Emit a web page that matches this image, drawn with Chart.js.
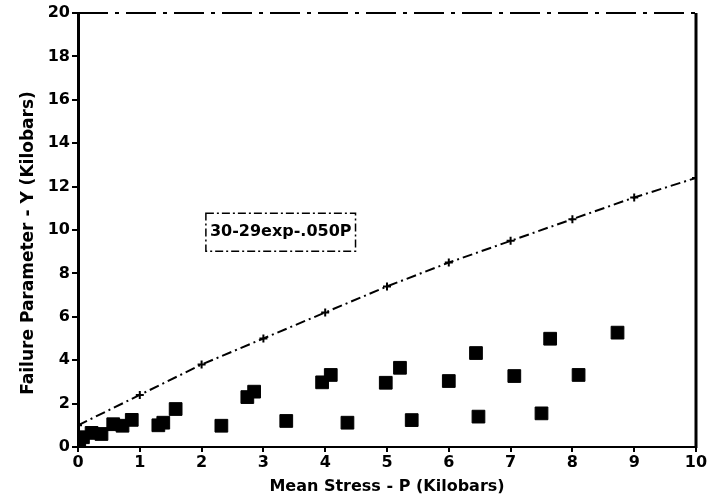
<!DOCTYPE html>
<html>
<head>
<meta charset="utf-8">
<script src="https://cdn.jsdelivr.net/npm/chart.js@4.4.0/dist/chart.umd.min.js"></script>
<style>
  html, body { margin: 0; padding: 0; background: #fff; }
  #wrap { width: 723px; height: 500px; }
</style>
</head>
<body>
<div id="wrap"><canvas id="failure-chart"></canvas></div>
<script>
// fitted curve Y = 30 - 29 exp(-0.050 P), values read at each kilobar
const curveP = [0, 1, 2, 3, 4, 5, 6, 7, 8, 9, 10];
const curveY = [1.0, 2.4, 3.8, 5.0, 6.2, 7.4, 8.5, 9.5, 10.5, 11.5, 12.4];

// measured points (squares)
const dataP = [0.02, 0.08, 0.22, 0.38, 0.57, 0.72, 0.87, 1.3, 1.38, 1.58, 2.32, 2.74, 2.85, 3.37, 3.95, 4.09, 4.36, 4.98, 5.21, 5.40, 6.0, 6.44, 6.48, 7.06, 7.5, 7.64, 8.1, 8.73];
const dataY = [0.25, 0.45, 0.65, 0.6, 1.05, 0.98, 1.25, 1.0, 1.12, 1.75, 0.98, 2.3, 2.55, 1.2, 2.98, 3.32, 1.12, 2.96, 3.65, 1.24, 3.04, 4.33, 1.4, 3.27, 1.55, 4.99, 3.32, 5.27];

const labelText = "30-29exp-.050P";
const yTitle = "Failure Parameter - Y (Kilobars)";
const xTitle = "Mean Stress - P (Kilobars)";

const FONT = "'DejaVu Sans', sans-serif";

// frame, y title and formula box
const framePlugin = {
  id: 'frame',
  afterDatasetsDraw(chart) {
    const {ctx, chartArea: a, scales} = chart;
    ctx.save();
    ctx.strokeStyle = '#000';
    // top edge (broken in the original)
    ctx.lineWidth = 2;
    ctx.setLineDash([30, 7, 4, 7]);
    ctx.beginPath();
    ctx.moveTo(a.left, a.top);
    ctx.lineTo(a.right, a.top);
    ctx.stroke();
    // right edge
    ctx.setLineDash([]);
    ctx.lineWidth = 3;
    ctx.beginPath();
    ctx.moveTo(a.right, a.top);
    ctx.lineTo(a.right, a.bottom + 1);
    ctx.stroke();

    ctx.fillStyle = '#000';
    // y title
    ctx.save();
    ctx.translate(29, 243);
    ctx.rotate(-Math.PI / 2);
    ctx.font = "bold 17px " + FONT;
    ctx.textAlign = 'center';
    ctx.textBaseline = 'middle';
    ctx.fillText(yTitle, 0, 0);
    ctx.restore();

    // formula box
    const cx = scales.x.getPixelForValue(3.28);
    const cy = scales.y.getPixelForValue(9.9);
    ctx.font = "bold 16px " + FONT;
    ctx.textAlign = 'center';
    ctx.textBaseline = 'middle';
    ctx.fillText(labelText, cx, cy);
    const w = ctx.measureText(labelText).width + 8;
    ctx.lineWidth = 1.5;
    ctx.setLineDash([8, 3, 2, 3]);
    ctx.strokeRect(cx - w / 2, cy - 19, w, 38);
    ctx.restore();
  }
};

new Chart(document.getElementById('failure-chart'), {
  type: 'scatter',
  data: {
    datasets: [
      {
        label: 'fit',
        type: 'line',
        data: curveP.map((p, i) => ({x: p, y: curveY[i]})),
        borderColor: '#000',
        borderWidth: 2,
        borderDash: [10, 4, 2, 4],
        pointStyle: 'cross',
        pointRadius: 4,
        pointBorderWidth: 2,
        pointBorderColor: '#000',
        fill: false,
        tension: 0
      },
      {
        label: 'data',
        data: dataP.map((p, i) => ({x: p, y: dataY[i]})),
        pointStyle: 'rect',
        pointRadius: 9,
        backgroundColor: '#000',
        borderColor: '#000',
        borderWidth: 1
      }
    ]
  },
  options: {
    responsive: true,
    maintainAspectRatio: false,
    animation: false,
    layout: { padding: { top: 13, right: 27, left: 0, bottom: 0 } },
    plugins: {
      legend: { display: false },
      tooltip: { enabled: false }
    },
    scales: {
      x: {
        type: 'linear',
        min: 0,
        max: 10,
        afterFit(scale) { scale.height = 53; },
        border: { display: true, color: '#000', width: 2, dash: [22, 6, 3, 6] },
        grid: { drawOnChartArea: false, drawTicks: true, tickLength: 5, color: '#000', lineWidth: 2 },
        ticks: {
          stepSize: 1,
          color: '#000',
          padding: 1,
          maxRotation: 0,
          font: { family: FONT, size: 16, weight: 'bold' }
        },
        title: {
          display: true,
          text: xTitle,
          color: '#000',
          padding: { top: 0, bottom: 4 },
          font: { family: FONT, size: 16, weight: 'bold' }
        }
      },
      y: {
        type: 'linear',
        min: 0,
        max: 20,
        afterFit(scale) { scale.width = 78; },
        border: { display: true, color: '#000', width: 3 },
        grid: { drawOnChartArea: false, drawTicks: true, tickLength: 6, color: '#000', lineWidth: 2 },
        ticks: {
          stepSize: 2,
          color: '#000',
          padding: 2,
          font: { family: FONT, size: 16, weight: 'bold' }
        },
        title: { display: false }
      }
    }
  },
  plugins: [framePlugin]
});
</script>
</body>
</html>
